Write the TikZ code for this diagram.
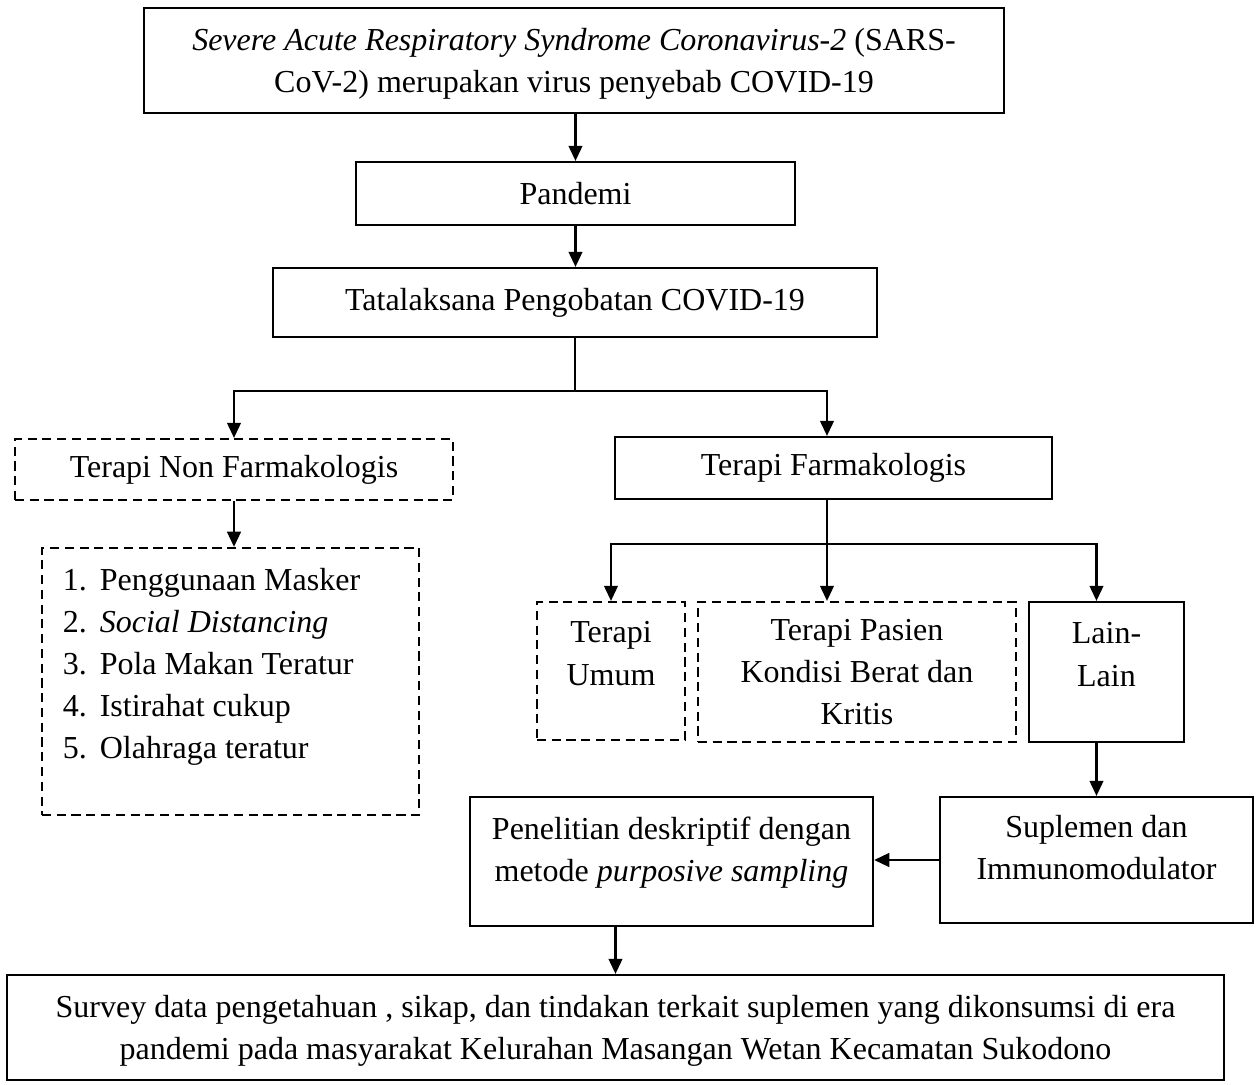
\documentclass[tikz,border=0pt]{standalone}
\usepackage{fontspec}
\setmainfont{Liberation Serif}
\usetikzlibrary{arrows.meta,positioning,calc}

\begin{document}
\begin{tikzpicture}[
    x=0.01cm, y=-0.01cm,
    font=\fontsize{9.1}{11.95}\selectfont,
    >={Triangle[length=4.3pt,width=3.9pt]},
    solidbox/.style={draw, line width=0.6pt, align=center, inner sep=0pt},
    dashbox/.style={solidbox, dash pattern=on 2.6pt off 1.6pt},
    flow/.style={->, line width=0.6pt},
    link/.style={line width=0.6pt},
]
\useasboundingbox (0,0) rectangle (1256,1085);

% =====================================================
% Top chain: virus -> pandemi -> tatalaksana
% =====================================================
\node[solidbox, minimum width=8.6cm, minimum height=1.05cm, text depth=0pt]
    (sars) at (574,60.5)
    {\textit{Severe Acute Respiratory Syndrome Coronavirus-2} (SARS-\\
     CoV-2) merupakan virus penyebab COVID-19};

\node[solidbox, minimum width=4.39cm, minimum height=0.63cm]
    (pandemi) at (575.5,193.5) {Pandemi};

\node[solidbox, minimum width=6.04cm, minimum height=0.69cm]
    (tata) at (575,302.5) {Tatalaksana Pengobatan COVID-19};

\draw[flow] (sars.south -| pandemi.north) -- (pandemi.north);
\draw[flow] (pandemi.south) -- (pandemi.south |- tata.north);

% =====================================================
% Non farmakologis branch (left)
% =====================================================
\node[dashbox, minimum width=4.38cm, minimum height=0.61cm]
    (nonfarm) at (234,469.5) {Terapi Non Farmakologis};

\node[dashbox, align=flush left, text width=3.35cm, inner xsep=0.21cm,
    minimum height=2.67cm, text depth=58pt] (tips) at (230.5,681.5)
    {\makebox[10.5pt][l]{1.}Penggunaan Masker\\
     \makebox[10.5pt][l]{2.}\textit{Social Distancing}\\
     \makebox[10.5pt][l]{3.}Pola Makan Teratur\\
     \makebox[10.5pt][l]{4.}Istirahat cukup\\
     \makebox[10.5pt][l]{5.}Olahraga teratur};

% =====================================================
% Farmakologis branch (right)
% =====================================================
\node[solidbox, minimum width=4.37cm, minimum height=0.62cm]
    (farm) at (833.5,468) {Terapi Farmakologis};

\node[dashbox, minimum width=1.48cm, minimum height=1.38cm, text depth=10pt]
    (umum) at (611,671) {Terapi\\Umum};

\node[dashbox, minimum width=3.18cm, minimum height=1.4cm]
    (kritis) at (857,672) {Terapi Pasien\\Kondisi Berat dan\\Kritis};

\node[solidbox, minimum width=1.55cm, minimum height=1.4cm, text depth=10pt]
    (lain) at (1106.5,672) {Lain-\\Lain};

\node[solidbox, minimum width=3.13cm, minimum height=1.26cm, text depth=7pt]
    (suplemen) at (1096.5,860) {Suplemen dan\\Immunomodulator};

\node[solidbox, minimum width=4.03cm, minimum height=1.29cm, text depth=7pt]
    (riset) at (671.5,861.5)
    {Penelitian deskriptif dengan\\metode \textit{purposive sampling}};

% =====================================================
% Bottom box
% =====================================================
\node[solidbox, minimum width=12.17cm, minimum height=1.05cm, text depth=0pt]
    (survey) at (615.5,1027.5)
    {Survey data pengetahuan , sikap, dan tindakan terkait suplemen yang dikonsumsi di era\\
     pandemi pada masyarakat Kelurahan Masangan Wetan Kecamatan Sukodono};

% =====================================================
% Connectors
% =====================================================
\draw[link] (tata.south) -- ++(0,53) coordinate (tsplit);
\draw[flow] (tsplit) -| (nonfarm.north);
\draw[flow] (tsplit) -| ([xshift=-0.065cm]farm.north);

\draw[flow] (nonfarm.south) -- (nonfarm.south |- tips.north);

\draw[link] ([xshift=-0.065cm]farm.south) -- ++(0,44) coordinate (fsplit);
\draw[flow] (fsplit) -| (umum.north);
\draw[flow] (fsplit) -- (fsplit |- kritis.north);
\draw[flow] (fsplit) -| (lain.north -| suplemen.north);

\draw[flow] (lain.south -| suplemen.north) -- (suplemen.north);
\draw[flow] (suplemen.west) -- (suplemen.west -| riset.east);
\draw[flow] (riset.south -| survey.north) -- (survey.north);

\end{tikzpicture}
\end{document}
